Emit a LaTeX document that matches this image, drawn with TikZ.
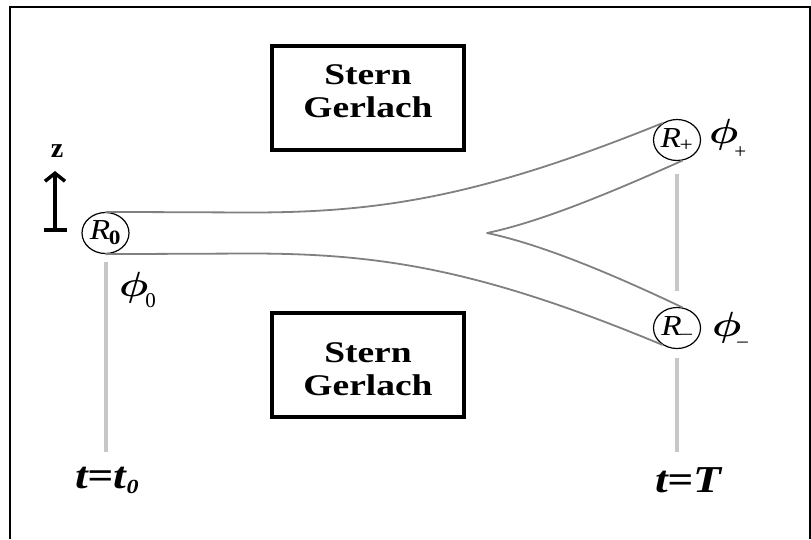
\documentclass[tikz,border=0pt]{standalone}
\usepackage{fontspec}
\setmainfont{Liberation Serif}
\usepackage{graphicx}
\usepackage{bm}
\usetikzlibrary{shapes.geometric,arrows.meta}
\newcommand{\bigphi}{\scalebox{4.1}[3.5]{$\bm{\phi}$}}
\newcommand{\subfont}{\fontsize{21}{21}\selectfont}
\begin{document}
\begin{tikzpicture}[x=1pt,y=-1pt,
  frame/.style={draw=black, line width=2pt},
  tube/.style={draw=black!50, line width=1.8pt, line join=round},
  tline/.style={draw=black!22, line width=4pt},
  sgbox/.style={draw=black, line width=4pt, minimum width=192pt, minimum height=104pt, inner sep=0pt},
  sgtext/.style={align=center, inner sep=0pt, font=\fontsize{30}{33}\selectfont\bfseries},
  state/.style={ellipse, draw=black, line width=1.2pt, minimum width=47pt, minimum height=41pt, inner sep=0pt, fill=white},
  rlab/.style={inner sep=0pt, font=\fontsize{29}{31}\selectfont},
  philab/.style={inner sep=0pt, anchor=base west},
  tlab/.style={inner sep=0pt, anchor=base west, font=\fontsize{38}{40}\selectfont\bfseries\itshape},
  zarrow/.style={draw=black, line width=3.5pt, -{Straight Barb[length=8pt,width=20pt]}},
  zbar/.style={draw=black, line width=3.5pt},
]
\useasboundingbox (0,0) rectangle (811,539);
\draw[frame] (10,539) -- (10,7) -- (810,7) -- (810,539);

% Stern-Gerlach magnets
\node[sgbox] (sg1) at (368,98) {};
\node[sgtext] (sg1t) at (368,91.5) {\scalebox{1.25}[1]{Stern}\\\scalebox{1.25}[1]{Gerlach}};
\node[sgbox] (sg2) at (368,365) {};
\node[sgtext] (sg2t) at (368,369) {\scalebox{1.25}[1]{Stern}\\\scalebox{1.25}[1]{Gerlach}};

% states
\node[state] (R0) at (105.5,233) {};
\node[state] (Rp) at (677,140) {};
\node[state] (Rm) at (677,328) {};
\node[rlab] (R0t) at (R0.center) {\scalebox{1.15}[1]{\itshape R\kern-1pt\textsubscript{\upshape\bfseries 0}}};
\node[rlab] (Rpt) at (Rp.center) {\scalebox{1.15}[1]{\itshape R\kern-1pt\textsubscript{\upshape +}}};
\node[rlab] (Rmt) at (Rm.center) {\scalebox{1.15}[1]{\itshape R\kern-1pt\textsubscript{\upshape\textendash}}};

% tubes
\coordinate (cusp) at (487,233);
\draw[tube] (R0.north) -- (250,212.5) .. controls (380,212.5) and (480,197) .. (Rp.130);
\draw[tube] (R0.south) -- (250,253.5) .. controls (380,253.5) and (480,269) .. (Rm.230);
\draw[tube] (Rp.-75) .. controls (610,193) and (540,222) .. (cusp)
             .. controls (540,244) and (610,273) .. (Rm.75);

% time lines
\coordinate (t0b) at (105.5,452);
\coordinate (tTb) at (677,452);
\draw[tline] ([yshift=-8pt]R0.south) -- (t0b);
\draw[tline] ([yshift=-13pt]Rp.south) -- ([yshift=16pt]Rm.north);
\draw[tline] ([yshift=-9pt]Rm.south) -- (tTb);

% phi labels
\node[philab] (phi0) at (119,296.5) {\bigphi\kern-3pt\raisebox{-10.5pt}{\subfont 0}};
\node[philab] (phip) at (709,143) {\bigphi\kern-4pt\raisebox{-15pt}{\subfont +}};
\node[philab] (phim) at (712,336) {\bigphi\kern-4pt\raisebox{-11.5pt}{\subfont \textendash}};

% time labels
\node[tlab] (lt0) at (75,488) {\scalebox{1.2}[1]{t=t}\raisebox{-5pt}{\scalebox{1.2}[1]{\fontsize{20}{20}\selectfont 0}}};
\node[tlab] (ltT) at (655,492) {\scalebox{1.2}[1]{t=T}};

% z axis
\coordinate (zb) at (55,230);
\coordinate (zt) at (55,171);
\coordinate (zl) at (44,230);
\coordinate (zr) at (67,230);
\draw[zarrow] (zb) -- (zt);
\draw[zbar] (zl) -- (zr);
\node[inner sep=0pt, font=\fontsize{28}{30}\selectfont\bfseries] (zlab) at (57,151) {z};
\end{tikzpicture}
\end{document}
